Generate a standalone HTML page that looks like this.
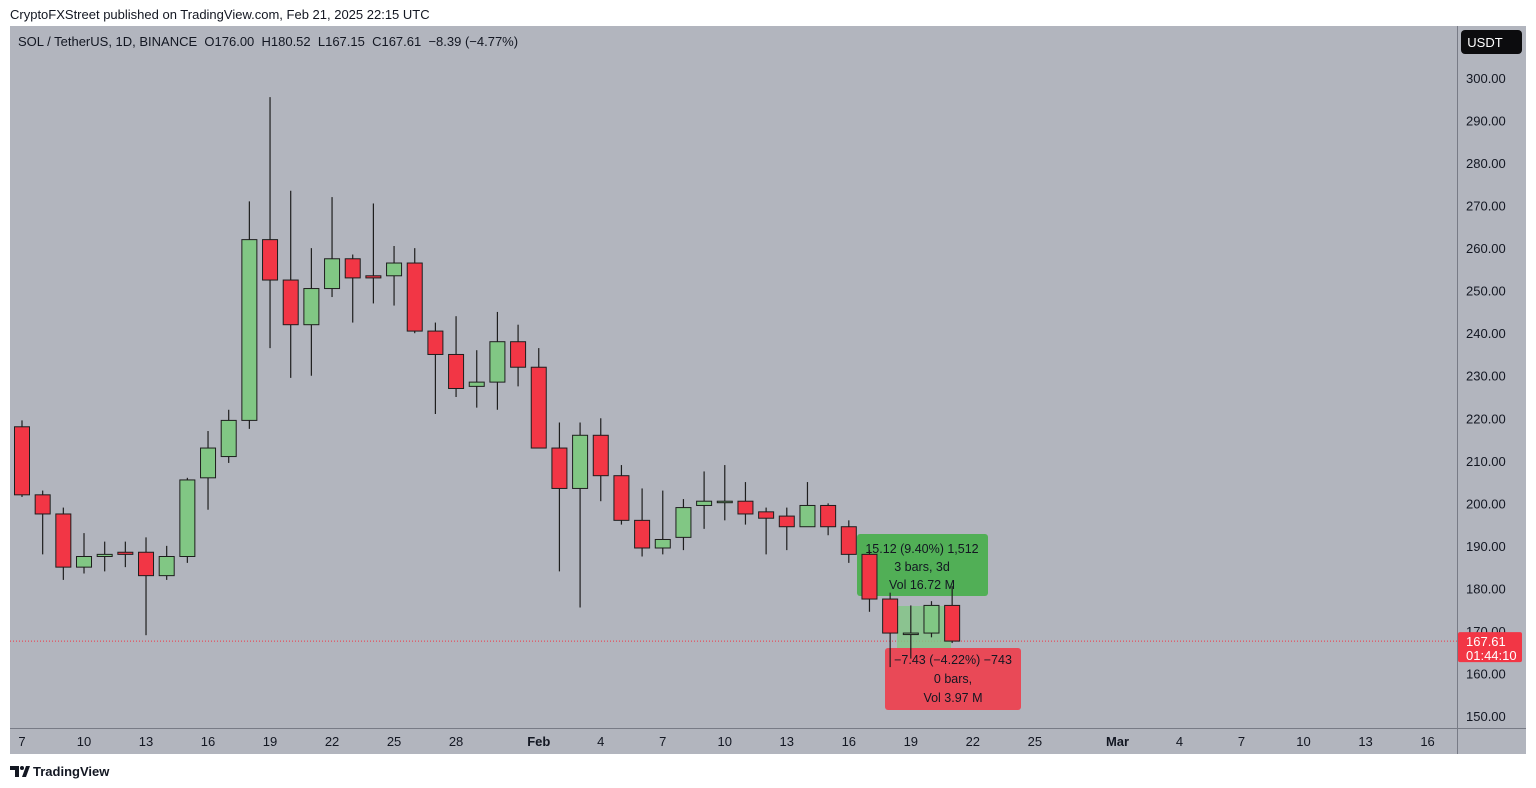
<!DOCTYPE html>
<html><head><meta charset="utf-8"><style>
html,body{margin:0;padding:0;background:#fff;width:1536px;height:788px;overflow:hidden;font-family:"Liberation Sans",Arial,sans-serif}
svg{position:absolute;left:0;top:0}
text{white-space:pre}
</style></head><body>
<svg id="c" width="1536" height="788" xmlns="http://www.w3.org/2000/svg">
<rect x="0" y="0" width="1536" height="788" fill="#fff"/>
<text x="10" y="19" font-size="13" fill="#131722">CryptoFXStreet published on TradingView.com, Feb 21, 2025 22:15 UTC</text>
<rect x="10" y="26" width="1516" height="728" fill="#b2b5be"/>
<line x1="1457.5" y1="26" x2="1457.5" y2="754" stroke="#787b86" stroke-width="1"/>
<line x1="10" y1="728.5" x2="1526" y2="728.5" stroke="#787b86" stroke-width="1"/>
<text x="18" y="46" font-size="13" fill="#131722" xml:space="preserve">SOL / TetherUS, 1D, BINANCE  O176.00  H180.52  L167.15  C167.61  −8.39 (−4.77%)</text>
<g id="grid"></g>
<g id="ann"></g>
<g id="marks"></g>
<g id="top"></g>
<rect x="1461" y="30" width="61" height="24" rx="4" fill="#0c0c0e"/>
<text x="1485" y="47" font-size="13" fill="#fff" text-anchor="middle">USDT</text>
<g id="logo">
<path d="M10 766h9v11h-4v-7h-5z" fill="#131722"/><circle cx="22" cy="768" r="2" fill="#131722"/><path d="M22 777l4-11h4l-4 11z" fill="#131722"/>
<text x="33" y="776" font-size="13" font-weight="bold" fill="#131722">TradingView</text>
</g>
</svg>
<script>
const days=["7","8","9","10","11","12","13","14","15","16","17","18","19","20","21","22","23","24","25","26","27","28","29","30","31","Feb 1","2","3","4","5","6","7","8","9","10","11","12","13","14","15","16","17","18","19","20","21"];
const opens=[218,202,197.5,185,187.5,188.5,188.5,183,187.5,206,211,219.5,262,252.5,242,250.5,257.5,253.5,253.5,256.5,240.5,235,227.5,228.5,238,232,213,203.5,216,206.5,196,189.5,192,199.5,200.5,200.5,198,197,194.5,199.5,194.5,188,177.5,169.5,169.5,176];
const highs=[219.5,203,199,193,191,191,192,190,206,217,222,271,295.5,273.5,260,272,258.5,270.5,260.5,260,242.5,244,236,245,242,236.5,219,219,220,209,203.5,203,201,207.5,209,205,199,199,205,200,196,189,179,176,177,180.52];
const lows=[201.5,188,182,183.5,184,185,169,182,186,198.5,209.5,217.5,236.5,229.5,230,248.5,242.5,247,246.5,240,221,225,222.5,222,227.5,213,184,175.5,200.5,195,187.5,188,189,194,196,195,188,189,194.5,192.5,186,174.5,161.5,163.5,168.5,167.15];
const closes=[202,197.5,185,187.5,188,188,183,187.5,205.5,213,219.5,262,252.5,242,250.5,257.5,253,253,256.5,240.5,235,227,228.5,238,232,213,203.5,216,206.5,196,189.5,191.5,199,200.5,200.5,197.5,196.5,194.5,199.5,194.5,188,177.5,169.5,169.5,176,167.61];
const priceTicks=[150,160,170,180,190,200,210,220,230,240,250,260,270,280,290,300];
const timeTicks=[[0,"7"],[3,"10"],[6,"13"],[9,"16"],[12,"19"],[15,"22"],[18,"25"],[21,"28"],[25,"Feb"],[28,"4"],[31,"7"],[34,"10"],[37,"13"],[40,"16"],[43,"19"],[46,"22"],[49,"25"],[53,"Mar"],[56,"4"],[59,"7"],[62,"10"],[65,"13"],[68,"16"]];
const last=167.61;
const NS="http://www.w3.org/2000/svg";
const yS=p=>716-(p-150)*4.2533;
const xS=i=>22+i*20.67;
function mk(t,a,par){const e=document.createElementNS(NS,t);for(const k in a)e.setAttribute(k,a[k]);par.appendChild(e);return e;}
const grid=document.getElementById('grid'),marks=document.getElementById('marks'),ann=document.getElementById('ann'),top_=document.getElementById('top');
priceTicks.forEach(p=>{const t=mk('text',{x:1466,y:yS(p)+5,'font-size':13,fill:'#131722'},grid);t.textContent=p.toFixed(2);

});
timeTicks.forEach(([i,l])=>{const t=mk('text',{x:xS(i),y:746,'font-size':13,fill:'#131722','text-anchor':'middle','font-weight':(l=="Feb"||l=="Mar")?'bold':'normal'},grid);t.textContent=l;

});
const pl=mk('line',{x1:10,x2:1457,y1:yS(last),y2:yS(last),stroke:'#f23645','stroke-dasharray':'1 2','stroke-width':1},grid);


opens.forEach((o,i)=>{const c=closes[i],x=xS(i),up=c>=o;
const g=mk('g',{},marks);


mk('line',{x1:x,x2:x,y1:yS(highs[i]),y2:yS(lows[i]),stroke:'#1e1e1e','stroke-width':1.2},g);
const t=yS(Math.max(o,c)),b=yS(Math.min(o,c));
mk('rect',{x:x-7.5,y:t,width:15,height:Math.max(b-t,1.5),fill:up?'#81c784':'#f23645',stroke:'#1e1e1e','stroke-width':1},g);});
mk('rect',{x:897,y:606,width:54,height:42,fill:'#81c784','fill-opacity':0.8},ann);
const gb=mk('rect',{x:857,y:534,width:131,height:62,rx:3,fill:'#4caf50','fill-opacity':0.95},ann);


[["15.12 (9.40%) 1,512",553],["3 bars, 3d",571],["Vol 16.72 M",589]].forEach(([s,y])=>{const t=mk('text',{x:922,y:y,'font-size':12.5,fill:'#131722','text-anchor':'middle'},ann);t.textContent=s;});
const rb=mk('rect',{x:885,y:648,width:136,height:62,rx:3,fill:'#f23645','fill-opacity':0.85},ann);


[["−7.43 (−4.22%) −743",664],["0 bars,",683],["Vol 3.97 M",702]].forEach(([s,y])=>{const t=mk('text',{x:953,y:y,'font-size':12.5,fill:'#131722','text-anchor':'middle'},ann);t.textContent=s;});
const lb=mk('rect',{x:1458,y:yS(last)-9,width:64,height:30,rx:2,fill:'#f23645'},top_);


const t1=mk('text',{x:1466,y:yS(last)+5,'font-size':13,fill:'#fff'},top_);t1.textContent=last.toFixed(2);
const t2=mk('text',{x:1466,y:yS(last)+19,'font-size':13,fill:'#fff'},top_);t2.textContent="01:44:10";
</script>
</body></html>
